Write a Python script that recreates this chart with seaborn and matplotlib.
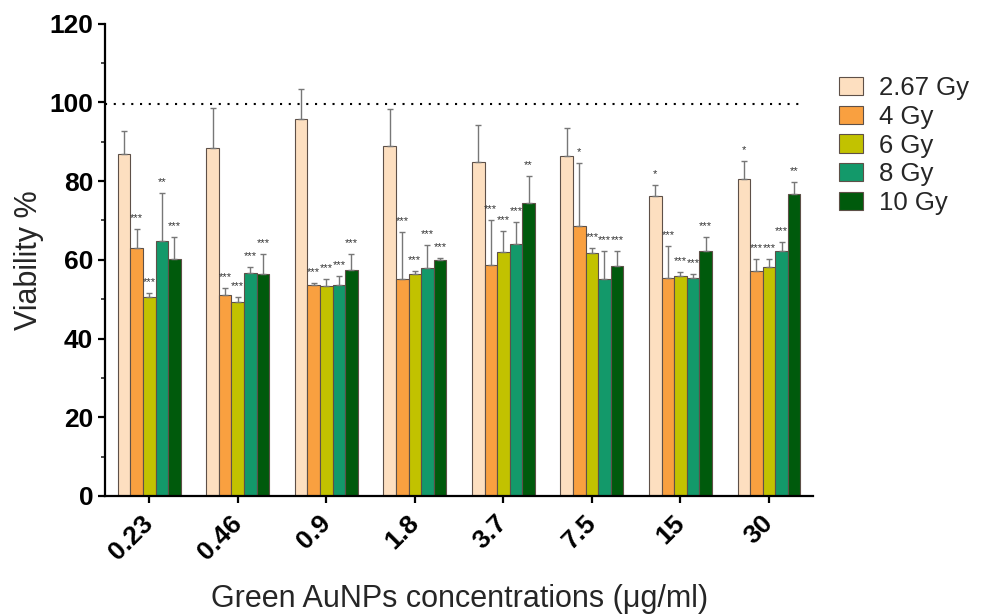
import numpy as np
import pandas as pd
import matplotlib
matplotlib.use('Agg')
import matplotlib.pyplot as plt
import matplotlib.transforms as mtransforms
import seaborn as sns

# data
concs = ['0.23', '0.46', '0.9', '1.8', '3.7', '7.5', '15', '30']
doses = ['2.67 Gy', '4 Gy', '6 Gy', '8 Gy', '10 Gy']

v_267 = [86.9, 88.5, 95.9, 88.9, 84.9, 86.5, 76.3, 80.5]
v_4 = [63.0, 51.1, 53.6, 55.1, 58.6, 68.6, 55.5, 57.2]
v_6 = [50.6, 49.3, 53.4, 56.4, 61.9, 61.7, 55.9, 58.2]
v_8 = [64.9, 56.7, 53.5, 57.8, 63.9, 55.2, 55.4, 62.2]
v_10 = [60.1, 56.5, 57.4, 59.9, 74.4, 58.4, 62.3, 76.6]

# upper error (SD) values
e_267 = [5.8, 10.1, 7.5, 9.5, 9.4, 7.0, 2.7, 4.7]
e_4 = [4.9, 1.8, 0.6, 12.0, 11.4, 16.0, 8.0, 2.9]
e_6 = [1.0, 1.2, 1.7, 0.8, 5.5, 1.3, 0.9, 2.1]
e_8 = [12.1, 1.4, 2.3, 5.9, 5.6, 7.1, 1.0, 2.3]
e_10 = [5.7, 5.0, 4.2, 0.6, 6.8, 3.9, 3.6, 3.2]

s_267 = ['', '', '', '', '', '', '*', '*']
s_4 = ['***', '***', '***', '***', '***', '*', '***', '***']
s_6 = ['***', '***', '***', '***', '***', '***', '***', '***']
s_8 = ['**', '***', '***', '***', '***', '***', '***', '***']
s_10 = ['***', '***', '***', '***', '**', '***', '***', '**']

colors = ['#FDDFC0', '#F9A040', '#C2C200', '#13996A', '#005A0C']
control = 99.5

vals = [v_267, v_4, v_6, v_8, v_10]
errs = [e_267, e_4, e_6, e_8, e_10]
stars = [s_267, s_4, s_6, s_8, s_10]

rows = []
for d, vs in zip(doses, vals):
    for c, v in zip(concs, vs):
        rows.append({'conc': c, 'dose': d, 'viability': v})
df = pd.DataFrame(rows)

sns.set_style('ticks')
plt.rcParams['font.family'] = ['Liberation Sans', 'DejaVu Sans']

fig = plt.figure(figsize=(9.81, 6.15), dpi=100)
ax = fig.add_axes([0.107, 0.1935, 0.722, 0.768])

sns.barplot(data=df, x='conc', y='viability', hue='dose', palette=colors,
            width=0.71, saturation=1, errorbar=None, edgecolor='#5e5048',
            linewidth=0.8, ax=ax)

for cont, es, ss in zip(ax.containers, errs, stars):
    for bar, e, s in zip(cont, es, ss):
        xc = bar.get_x() + bar.get_width() / 2
        top = bar.get_height()
        ax.errorbar(xc, top, yerr=[[0], [e]], color='#777777', lw=1,
                    capsize=2, capthick=1, zorder=1)
        if s:
            ax.text(xc, top + e + 1.5, s, ha='center', va='bottom',
                    fontsize=8, color='#333333')

ax.hlines(control, -0.5, 7.35, colors='black', lw=1.5,
          linestyles=(0, (1, 3.2)), zorder=0)

ax.set_xlim(-0.5, 7.5)
ax.set_ylim(0, 120)
ax.set_yticks(np.arange(0, 121, 20))
ax.set_yticks(np.arange(10, 120, 20), minor=True)

for side in ['top', 'right']:
    ax.spines[side].set_visible(False)
for side in ['left', 'bottom']:
    ax.spines[side].set_linewidth(1.6)
    ax.spines[side].set_color('black')

ax.tick_params(axis='both', which='major', length=5, width=1.6,
               labelsize=19, colors='black')
ax.tick_params(axis='y', which='minor', length=3, width=1.2)
for lab in ax.get_yticklabels():
    lab.set_fontweight('bold')
shift = mtransforms.ScaledTranslation(-0.08, -0.03, fig.dpi_scale_trans)
for lab in ax.get_xticklabels():
    lab.set_fontweight('bold')
    lab.set_rotation(45)
    lab.set_ha('right')
    lab.set_rotation_mode('anchor')
    lab.set_transform(lab.get_transform() + shift)

ax.set_ylabel('Viability %', fontsize=22, labelpad=4)
ax.set_xlabel('Green AuNPs concentrations (\u03bcg/ml)', fontsize=22,
              labelpad=14)

ax.legend(loc='upper left', bbox_to_anchor=(0.855, 0.876),
          bbox_transform=fig.transFigure, frameon=False, fontsize=18.5,
          handlelength=0.95, handleheight=0.72, handletextpad=0.6,
          labelspacing=0.18, borderpad=0, borderaxespad=0)

fig.savefig('out.png', dpi=100)
